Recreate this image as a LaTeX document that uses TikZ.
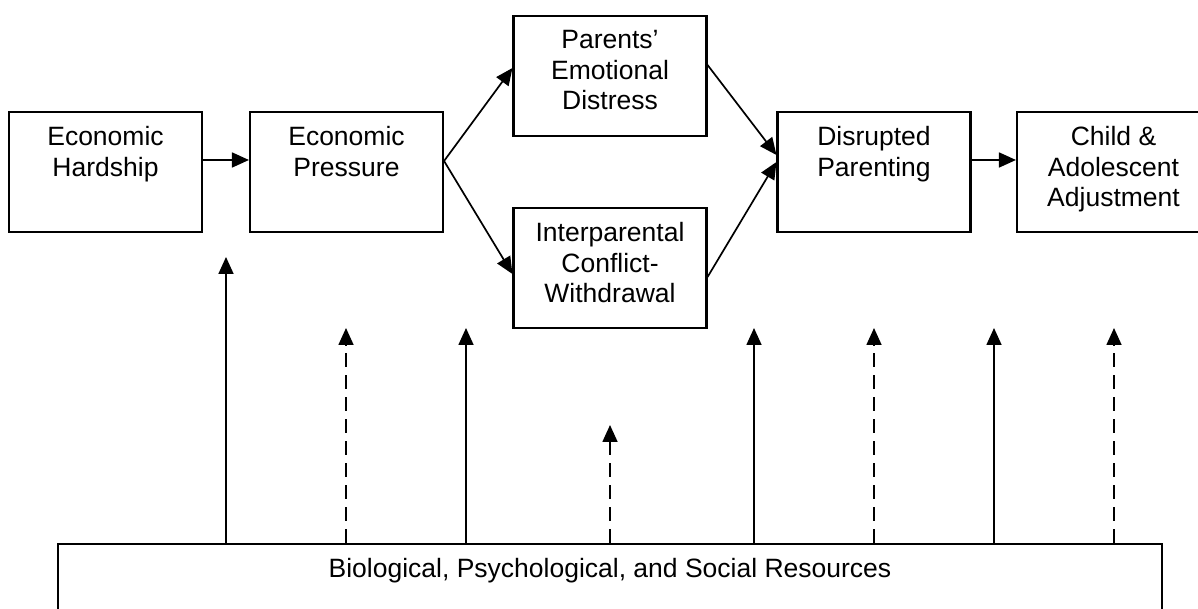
\documentclass[tikz,border=0pt]{standalone}
\usepackage{fontspec}
\setmainfont{Liberation Sans}
\usetikzlibrary{arrows.meta,positioning}
\tikzset{
	box/.style={draw, line width=2.1pt, minimum width=193pt, minimum height=120pt, inner sep=0pt},
	txt/.style={align=center, inner sep=0pt, font=\fontsize{26.5}{30.5}\selectfont},
	link/.style={line width=1.7pt, -{Triangle[length=17pt, width=15pt]}},
	solidlink/.style={link},
	dashlink/.style={link, dash pattern=on 14pt off 8pt}
}

\begin{document}
\begin{tikzpicture}[x=1pt, y=1pt]
			%%%%% START %%%%%
			\useasboundingbox (0, 0) rectangle (1198, 609);
			
			\node[box] (hard) at (105.5, 437) {};
			\node[txt, below=15.5pt of hard.north] (hardtxt) {Economic\\Hardship};
			
			\node[box] (press) at (346.5, 437) {};
			\node[txt, below=15.5pt of press.north] (presstxt) {Economic\\Pressure};
			
			\node[box] (emot) at (610, 533) {};
			\node[txt, below=15.5pt of emot.north] (emottxt) {Parents’\\Emotional\\Distress};
			
			\node[box] (confl) at (610, 341) {};
			\node[txt, below=15.5pt of confl.north] (confltxt) {Interparental\\Conflict-\\Withdrawal};
			
			\node[box] (disr) at (874, 437) {};
			\node[txt, below=15.5pt of disr.north] (disrtxt) {Disrupted\\Parenting};
			
			\node[box] (child) at (1113.5, 437) {};
			\node[txt, below=15.5pt of child.north] (childtxt) {Child \&\\Adolescent\\Adjustment};
			
			\node[box, minimum width=1104pt] (res) at (610, 5) {};
			\node[txt, below=15.5pt of res.north] (restxt) {Biological, Psychological, and Social Resources};
			
			\draw[link] ([yshift=12pt]hard.east) -- ([yshift=12pt]press.west);
			\draw[link] ([yshift=11pt]press.east) -- ([yshift=8pt]emot.west);
			\draw[link] ([yshift=11pt]press.east) -- ([yshift=-6pt]confl.west);
			\draw[link] ([yshift=11pt]emot.east) -- ([yshift=17pt]disr.west);
			\draw[link] ([yshift=-9pt]confl.east) -- ([yshift=10pt]disr.west);
			\draw[link] ([yshift=12pt]disr.east) -- ([yshift=12pt]child.west);
			
			% resources acting on each path
			\foreach \n/\x/\y/\s in {1/226/352/solidlink, 2/346/281/dashlink, 3/466/281/solidlink, 4/610/184/dashlink,
					5/754/281/solidlink, 6/874/281/dashlink, 7/994/281/solidlink, 8/1114/281/dashlink} {
				\coordinate (mod\n) at (\x, \y);
				\draw[\s] (res.north -| mod\n) -- (mod\n);
			}
			
			%%%%% END %%%%%
\end{tikzpicture}
\end{document}
